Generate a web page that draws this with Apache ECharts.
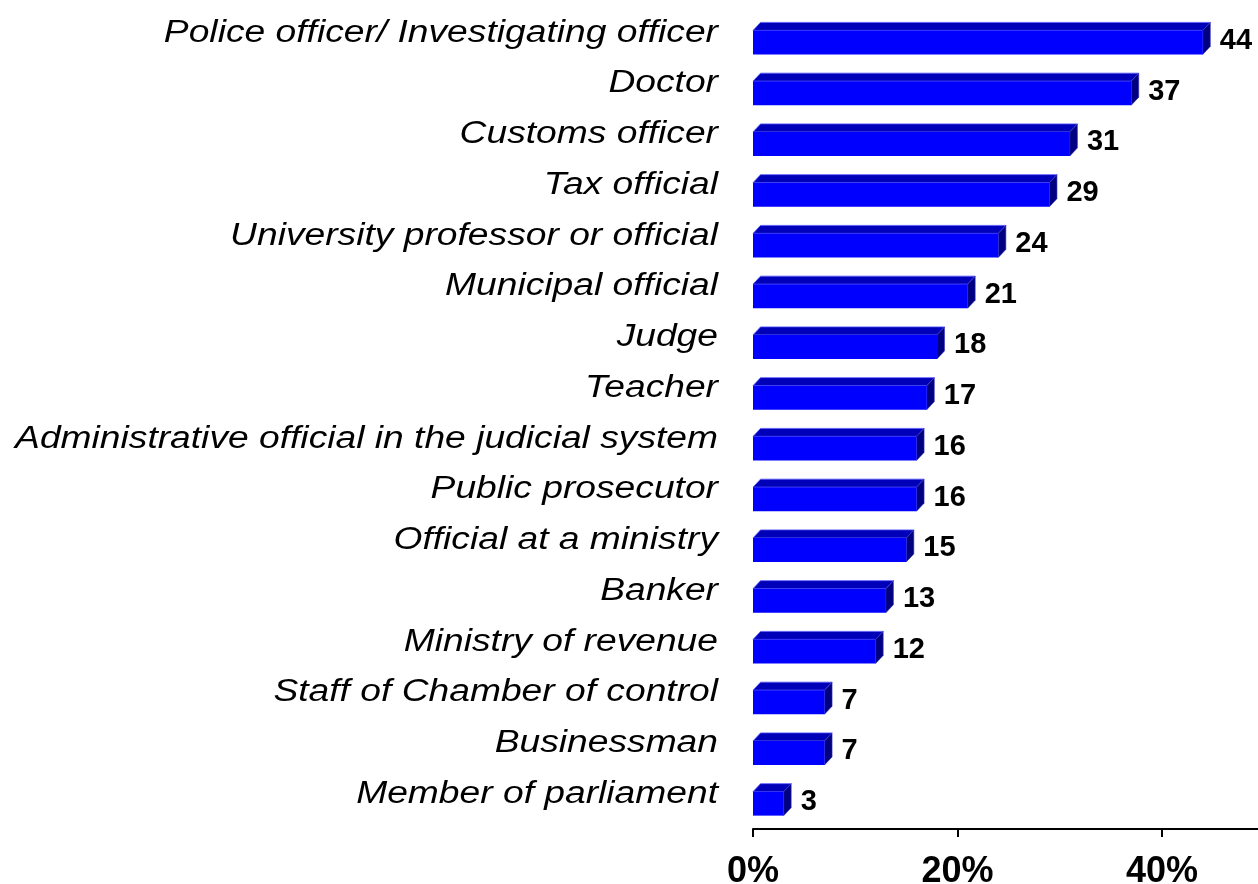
<!DOCTYPE html>
<html>
<head>
<meta charset="utf-8">
<script src="https://cdn.jsdelivr.net/npm/echarts@6/dist/echarts.min.js"></script>
<style>
html,body{margin:0;padding:0;background:#fff;}
#chart{width:1258px;height:884px;}
</style>
</head>
<body>
<div id="chart"></div>
<script>
const categories = [
  'Police officer/ Investigating officer',
  'Doctor',
  'Customs officer',
  'Tax official',
  'University professor or official',
  'Municipal official',
  'Judge',
  'Teacher',
  'Administrative official in the judicial system',
  'Public prosecutor',
  'Official at a ministry',
  'Banker',
  'Ministry of revenue',
  'Staff of Chamber of control',
  'Businessman',
  'Member of parliament'
];
const values = [44, 37, 31, 29, 24, 21, 18, 17, 16, 16, 15, 13, 12, 7, 7, 3];
const xTicks = [0, 20, 40];

const chart = echarts.init(document.getElementById('chart'), null, {renderer: 'canvas'});

const DX = 7.5, DY = 8, H = 24;

function renderItem(params, api) {
  const v = api.value(0);
  const idx = api.value(1);
  const p = api.coord([v, idx]);
  const p0 = api.coord([0, idx]);
  const x0 = p0[0], x1 = p[0];
  const y = p[1] - H / 2;
  return {
    type: 'group',
    children: [
      {
        type: 'polygon',
        shape: {points: [[x0, y], [x0 + DX, y - DY], [x1 + DX, y - DY], [x1, y]]},
        style: {fill: '#0000B8', stroke: '#5a5aff', lineWidth: 0.8}
      },
      {
        type: 'polygon',
        shape: {points: [[x1, y], [x1 + DX, y - DY], [x1 + DX, y - DY + H], [x1, y + H]]},
        style: {fill: '#000080', stroke: '#3030c0', lineWidth: 0.6}
      },
      {
        type: 'rect',
        shape: {x: x0, y: y, width: x1 - x0, height: H},
        style: {fill: '#0000FF'}
      },
      {
        type: 'text',
        style: {
          text: String(v),
          x: x1 + 17,
          y: p[1] - 1.5,
          align: 'left',
          verticalAlign: 'middle',
          font: 'bold 29px "Liberation Sans", Arial, sans-serif',
          fill: '#000'
        }
      },
      {
        type: 'text',
        x: x0 - 35,
        y: p[1] - 9.5,
        scaleX: 1.2,
        scaleY: 1,
        style: {
          text: categories[idx],
          x: 0,
          y: 0,
          align: 'right',
          verticalAlign: 'middle',
          font: 'italic 31px "Liberation Sans", Arial, sans-serif',
          fill: '#000'
        }
      }
    ]
  };
}

const option = {
  animation: false,
  backgroundColor: '#fff',
  grid: {left: 753, top: 17, right: 0, height: 812, containLabel: false, outerBoundsMode: 'none'},
  xAxis: {
    type: 'value',
    min: 0,
    max: 49.4,
    interval: 20,
    axisLine: {show: true, lineStyle: {color: '#000', width: 2}},
    axisTick: {show: true, length: 8, lineStyle: {color: '#000', width: 2}},
    splitLine: {show: false},
    axisLabel: {
      showMaxLabel: false,
      margin: 25,
      formatter: function (val) { return xTicks.indexOf(val) >= 0 ? val + '%' : ''; },
      fontFamily: '"Liberation Sans", Arial, sans-serif',
      fontWeight: 'bold',
      fontSize: 36,
      color: '#000'
    }
  },
  yAxis: {
    type: 'category',
    data: categories,
    inverse: true,
    axisLine: {show: false},
    axisTick: {show: false},
    splitLine: {show: false},
    axisLabel: {show: false}
  },
  series: [{
    type: 'custom',
    renderItem: renderItem,
    encode: {x: 0, y: 1},
    clip: false,
    data: values.map((v, i) => [v, i])
  }]
};
chart.setOption(option);
</script>
</body>
</html>
